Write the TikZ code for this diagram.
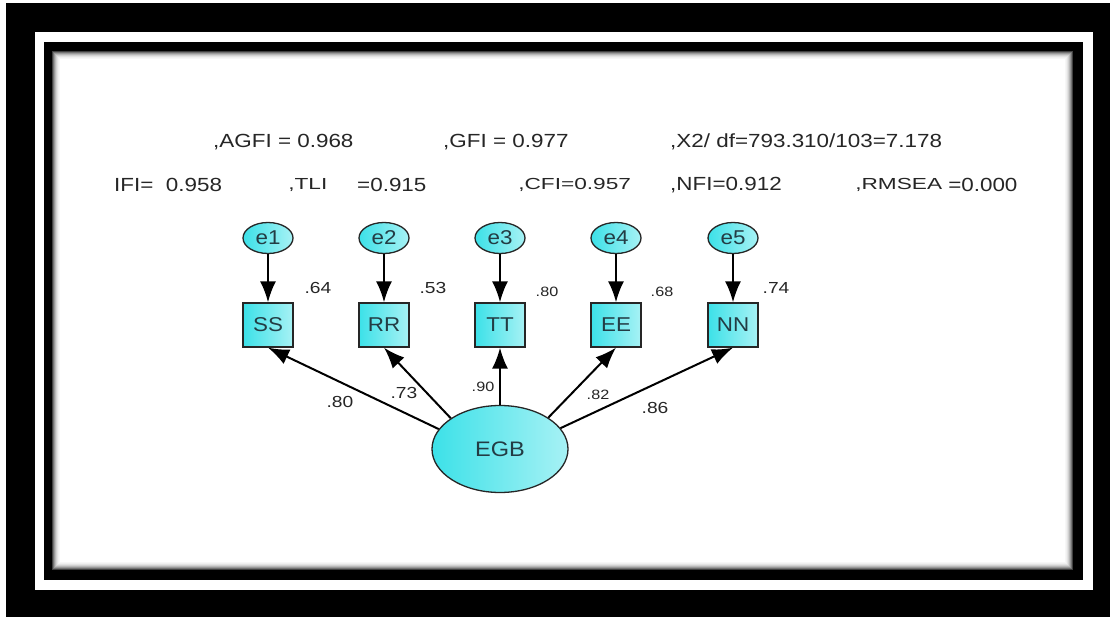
\documentclass[tikz,border=0pt]{standalone}
\usepackage{fontspec}
\setmainfont{Liberation Sans}
\usetikzlibrary{arrows.meta,shapes.geometric}

\definecolor{semcyan}{RGB}{60,225,232}
\definecolor{semtext}{RGB}{35,60,68}

\tikzset{
  errvar/.style={ellipse,draw=black!85,line width=1.3pt,left color=semcyan,right color=semcyan!45!white,
    minimum width=50pt,minimum height=31pt,inner sep=0pt,text=semtext,font=\fontsize{20}{21}\selectfont},
  obsvar/.style={rectangle,draw=black!85,line width=1.3pt,left color=semcyan,right color=semcyan!45!white,
    minimum width=50pt,minimum height=44pt,inner sep=0pt,text=semtext,font=\fontsize{20}{21}\selectfont},
  latvar/.style={errvar,minimum width=136pt,minimum height=87pt,font=\fontsize{21}{22}\selectfont},
  semarrow/.style={line width=2pt,-{Latex[length=21pt,width=16pt]}},
  bigidx/.style={anchor=west,inner sep=0pt,xscale=1.18,transform shape,text=black!85,
    font=\fontsize{19}{21}\selectfont},
  smallidx/.style={bigidx,xscale=1.2,font=\fontsize{16}{18}\selectfont},
  bigest/.style={inner sep=0pt,xscale=1.2,transform shape,text=black!85,font=\fontsize{16}{17}\selectfont},
  smallest/.style={bigest,font=\fontsize{13.5}{15}\selectfont}
}
\newcommand{\wlabel}[1]{\scalebox{1.12}[1]{#1}}

\begin{document}
\begin{tikzpicture}[x=1pt,y=-1pt]
  \useasboundingbox (0,0) rectangle (1110,617);
  % frame
  \fill[white] (0,0) rectangle (1110,617);
  \fill[black] (6,3) rectangle (1110,617);
  \fill[white] (35,32) rectangle (1093,590);
  \fill[black] (44,42) rectangle (1083,580);
  \fill[white] (52,51) rectangle (1073,570);
  \foreach \i/\g in {0/75,1/55,2/40,3/28,4/18,5/11,6/6,7/3}
    \draw[black!\g,line width=1pt] (52.5+\i,51.5+\i) rectangle (1072.5-\i,569.5-\i);

  % fit indices
  \node[bigidx] (agfi) at (213,142) {,AGFI = 0.968};
  \node[bigidx] (gfi) at (443,142) {,GFI = 0.977};
  \node[bigidx] (chi) at (670,142) {,X2/ df=793.310/103=7.178};
  \node[bigidx] (ifi) at (114,185) {IFI=\ \ 0.958};
  \node[smallidx] (tli) at (288,185) {,TLI};
  \node[bigidx] (tliv) at (357,185) {=0.915};
  \node[smallidx] (cfi) at (518,185) {,CFI=0.957};
  \node[bigidx] (nfi) at (670,185) {,NFI=0.912};
  \node[smallidx] (rmsea) at (855,185) {,RMSEA};
  \node[bigidx] (rmseav) at (948,185) {=0.000};

  % model
  \node[errvar] (e1) at (268,238) {\wlabel{e1}};
  \node[errvar] (e2) at (384,238) {\wlabel{e2}};
  \node[errvar] (e3) at (500,238) {\wlabel{e3}};
  \node[errvar] (e4) at (616,238) {\wlabel{e4}};
  \node[errvar] (e5) at (733,238) {\wlabel{e5}};

  \node[obsvar] (ss) at (268,325) {\wlabel{SS}};
  \node[obsvar] (rr) at (384,325) {\wlabel{RR}};
  \node[obsvar] (tt) at (500,325) {\wlabel{TT}};
  \node[obsvar] (ee) at (616,325) {\wlabel{EE}};
  \node[obsvar] (nn) at (733,325) {\wlabel{NN}};

  \node[latvar] (egb) at (500,449) {\wlabel{EGB}};

  \draw[semarrow] (e1) -- (ss);
  \draw[semarrow] (e2) -- (rr);
  \draw[semarrow] (e3) -- (tt);
  \draw[semarrow] (e4) -- (ee);
  \draw[semarrow] (e5) -- (nn);

  \draw[semarrow] (egb.162) -- (ss.south);
  \draw[semarrow] (egb.148) -- (rr.south);
  \draw[semarrow] (egb.north) -- (tt.south);
  \draw[semarrow] (egb.33) -- (ee.south);
  \draw[semarrow] (egb.19) -- (nn.south);

  % squared multiple correlations
  \node[bigest] (r1) at (318,288) {.64};
  \node[bigest] (r2) at (433,288) {.53};
  \node[smallest] (r3) at (547,292) {.80};
  \node[smallest] (r4) at (662,292) {.68};
  \node[bigest] (r5) at (776,288) {.74};

  % loadings
  \node[bigest] (l1) at (340,402) {.80};
  \node[bigest] (l2) at (404,393) {.73};
  \node[smallest] (l3) at (483,387) {.90};
  \node[smallest] (l4) at (598,395) {.82};
  \node[bigest] (l5) at (655,408) {.86};
\end{tikzpicture}
\end{document}
